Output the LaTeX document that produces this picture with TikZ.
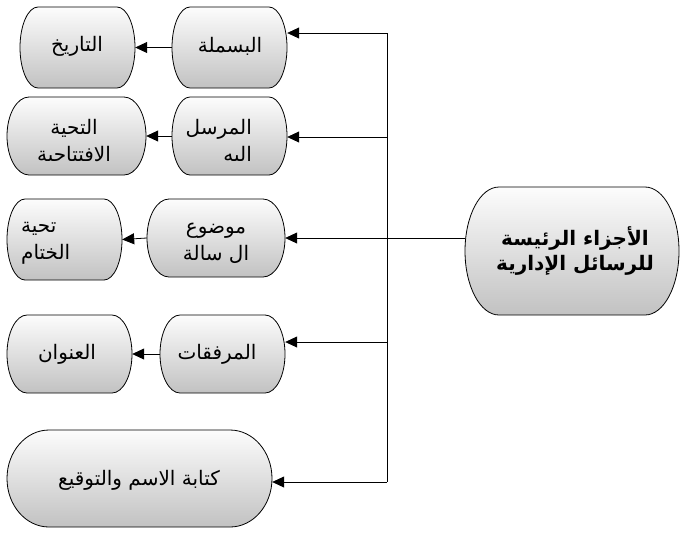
\documentclass[tikz,border=0pt]{standalone}
\usepackage{fontspec}
\usetikzlibrary{arrows.meta}
\newfontfamily\arabicfont[Script=Arabic]{DejaVu Sans}
\TeXXeTstate=1
\newcommand\tbox[5]{%
  \pgfmathsetmacro\cyy{(#2+#4)/2}%
  \pgfmathsetmacro\ryy{(#4-#2)/2}%
  \pgfmathsetmacro\xa{#1+#5}%
  \pgfmathsetmacro\xb{#3-#5}%
  \pgfmathsetmacro\kx{0.5523*#5}%
  \pgfmathsetmacro\ky{0.5523*\ryy}%
  \path[boxshape] (\xa,#2) -- (\xb,#2)
    .. controls (\xb+\kx,#2) and (#3,\cyy-\ky) .. (#3,\cyy)
    .. controls (#3,\cyy+\ky) and (\xb+\kx,#4) .. (\xb,#4)
    -- (\xa,#4)
    .. controls (\xa-\kx,#4) and (#1,\cyy+\ky) .. (#1,\cyy)
    .. controls (#1,\cyy-\ky) and (\xa-\kx,#2) .. (\xa,#2) -- cycle;
}
\tikzset{
  boxshape/.style={draw=black, line width=0.8pt, top color=black!1, bottom color=black!24},
  holder/.style={draw=none, inner sep=0pt, rectangle},
  lbl/.style={inner sep=0pt, font=\arabicfont\fontsize{20}{27}\selectfont, text=black},
  conn/.style={draw=black, line width=0.8pt},
  arr/.style={conn, -{Triangle[length=12pt,width=11pt]}}
}
\begin{document}
\begin{tikzpicture}[x=1pt,y=-1pt]
\useasboundingbox (0,0) rectangle (700,550);
% shapes
\tbox{20}{7}{135}{88}{18}
\tbox{172}{7}{287}{88}{18}
\tbox{7}{97}{146}{175}{22}
\tbox{172}{97}{287}{175}{18}
\tbox{7}{199}{122}{280}{18}
\tbox{147}{199}{285}{277}{22}
\tbox{7}{315}{132}{393}{20}
\tbox{160}{315}{285}{393}{20}
\tbox{7}{430}{272}{527}{42}
\tbox{465}{187}{679}{315}{34}
% holder nodes
\node[holder, minimum width=115pt, minimum height=81pt] (tarikh) at (77.5,47.5) {};
\node[holder, minimum width=115pt, minimum height=81pt] (basmala) at (229.5,47.5) {};
\node[holder, minimum width=139pt, minimum height=78pt] (tahiya) at (76.5,136) {};
\node[holder, minimum width=115pt, minimum height=78pt] (mursal) at (229.5,136) {};
\node[holder, minimum width=115pt, minimum height=81pt] (khitam) at (64.5,239.5) {};
\node[holder, minimum width=138pt, minimum height=78pt] (mawdu) at (216,238) {};
\node[holder, minimum width=125pt, minimum height=78pt] (unwan) at (69.5,354) {};
\node[holder, minimum width=125pt, minimum height=78pt] (murfaqat) at (222.5,354) {};
\node[holder, minimum width=265pt, minimum height=97pt] (kitaba) at (139.5,478.5) {};
\node[holder, minimum width=214pt, minimum height=128pt] (main) at (572,251) {};
% texts
\node[lbl] (ttarikh) at (77,46) {\beginR التاريخ\endR};
\node[lbl] (tbasmala) at (230,46) {\beginR البسملة\endR};
\node[lbl, align=center] (ttahiya) at (74,140) {\beginR التحية\endR\\\beginR الافتتاحىة\endR};
\node[lbl, align=right, anchor=east] (tmursal) at (252,140) {\beginR المرسل\endR\\\beginR الىه\endR};
\node[lbl, align=left, anchor=west] (tkhitam) at (21,243) {\beginR تحية\endR\\\beginR الختام\endR};
\node[lbl, align=center] (tmawdu) at (216,243) {\beginR موضوع\endR\\\beginR ال سالة\endR};
\node[lbl] (tunwan) at (67,354) {\beginR العنوان\endR};
\node[lbl] (tmurfaqat) at (217,354) {\beginR المرفقات\endR};
\node[lbl] (tkitaba) at (139,480) {\beginR كتابة الاسم والتوقيع\endR};
\node[lbl, align=center, font=\arabicfont\bfseries\fontsize{20}{25}\selectfont] (tmain) at (575,251) {\beginR الأجزاء الرئيسة\endR\\\beginR للرسائل الإدارية\endR};
% trunk
\coordinate (j1) at (387,33);
\coordinate (j2) at (387,137);
\coordinate (j3) at (387,238);
\coordinate (j4) at (387,342);
\coordinate (j5) at (387,482);
\draw[conn] (j1) -- (j5);
\draw[conn] (main.west |- j3) -- (j3);
\draw[arr] (j1) -- (basmala.east |- j1);
\draw[arr] (j2) -- (mursal.east |- j2);
\draw[arr] (j3) -- (mawdu.east |- j3);
\draw[arr] (j4) -- (murfaqat.east |- j4);
\draw[arr] (j5) -- (kitaba.east |- j5);
% row arrows
\draw[arr] (basmala.west) -- (tarikh.east);
\draw[arr] (mursal.west) -- (tahiya.east);
\draw[arr] (mawdu.west) -- (khitam.east);
\draw[arr] (murfaqat.west) -- (unwan.east);
\end{tikzpicture}
\end{document}
